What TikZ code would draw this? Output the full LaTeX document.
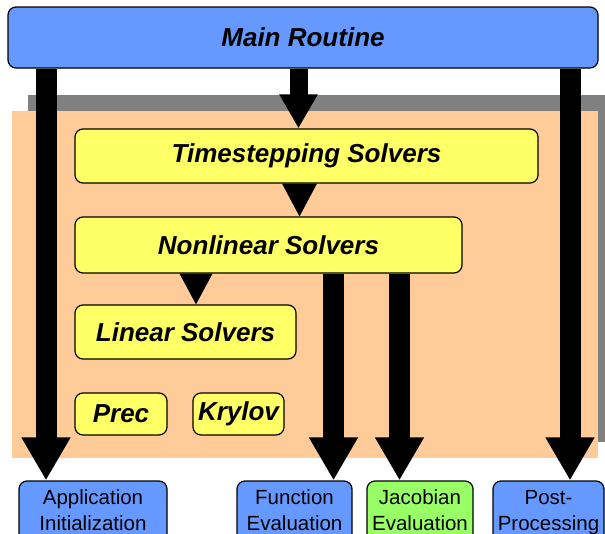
\documentclass[tikz,border=0pt]{standalone}
\usepackage{fontspec}
\setmainfont{Liberation Sans}
\usetikzlibrary{arrows.meta}
\definecolor{mainblue}{HTML}{6699FF}
\definecolor{solveryellow}{HTML}{FFFF66}
\definecolor{panelorange}{HTML}{FFCC99}
\definecolor{shadowgray}{HTML}{808080}
\definecolor{jacgreen}{HTML}{99FF66}
\tikzset{
  boxbase/.style={draw=black, line width=1.2pt, rounded corners=8pt, inner sep=0pt, align=center},
  bluebox/.style={boxbase, fill=mainblue},
  yellowbox/.style={boxbase, fill=solveryellow, font=\fontsize{26}{30}\selectfont\bfseries\itshape},
  leafbox/.style={boxbase, font=\fontsize{20.5}{26}\selectfont, minimum height=62pt},
  bigarrow/.style={line width=21pt, -{Triangle[width=46pt,length=43pt]}},
  midarrow/.style={line width=18pt, -{Triangle[width=36pt,length=34pt]}},
}
\begin{document}
\begin{tikzpicture}[x=1pt,y=-1pt]
\clip (0,0) rectangle (605,533);
% panel with shadow
\fill[shadowgray] (28,95) rectangle (614,442);
\fill[panelorange] (12,111) rectangle (598,458);
% nodes
\node[bluebox, minimum width=590pt, minimum height=61pt, font=\fontsize{26}{30}\selectfont\bfseries\itshape] (main) at (303,37.5) {Main Routine};
\node[yellowbox, minimum width=463pt, minimum height=54pt] (ts) at (306.5,156) {Timestepping Solvers};
\node[yellowbox, minimum width=387pt, minimum height=56pt] (nl) at (268.5,245) {Nonlinear Solvers};
\node[yellowbox, minimum width=221pt, minimum height=54pt] (ls) at (185.5,332) {Linear Solvers};
\node[yellowbox, minimum width=92pt, minimum height=42pt] (prec) at (121,414) {Prec};
\node[yellowbox, minimum width=91pt, minimum height=42pt] (kry) at (238.5,414) {Krylov};
\node[leafbox, fill=mainblue, minimum width=148pt] (app) at (93,512) {\strut Application\\\strut Initialization};
\node[leafbox, fill=mainblue, minimum width=115pt] (fun) at (294.5,512) {\strut Function\\\strut Evaluation};
\node[leafbox, fill=jacgreen, minimum width=106pt] (jac) at (420,512) {\strut Jacobian\\\strut Evaluation};
\node[leafbox, fill=mainblue, minimum width=111pt] (post) at (548.5,512) {\strut Post-\\\strut Processing};
% connectors
\draw[bigarrow] (46,0 |- main.south) -- (46,0 |- app.north);
\draw[bigarrow] (570,0 |- main.south) -- (570,0 |- post.north);
\draw[bigarrow] (333.5,0 |- nl.south) -- (333.5,0 |- fun.north);
\draw[bigarrow] (399.5,0 |- nl.south) -- (399.5,0 |- jac.north);
\draw[midarrow] (298.5,0 |- main.south) -- (298.5,0 |- ts.north);
\fill (282,0 |- ts.south) -- (317,0 |- ts.south) -- (299.5,0 |- nl.north) -- cycle;
\fill (179.5,0 |- nl.south) -- (212.5,0 |- nl.south) -- (196,0 |- ls.north) -- cycle;
\end{tikzpicture}
\end{document}
